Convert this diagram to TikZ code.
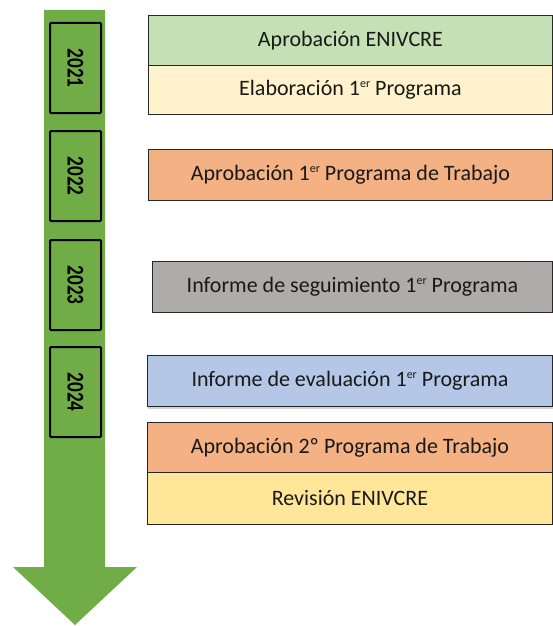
\documentclass[tikz,border=0pt]{standalone}
\usepackage{fontspec}
\setmainfont{Carlito}
\usetikzlibrary{shadows}
\definecolor{arrowgreen}{HTML}{70AD47}
\definecolor{cgreen}{HTML}{C5E0B4}
\definecolor{ccream}{HTML}{FFF2CC}
\definecolor{corange}{HTML}{F4B183}
\definecolor{cgray}{HTML}{AFABAB}
\definecolor{cblue}{HTML}{B4C7E7}
\definecolor{cyellow}{HTML}{FFE699}
\newcommand{\myup}[1]{\raisebox{8.5pt}{\fontsize{12}{12}\selectfont #1}}
\newcommand{\myyear}[1]{\scalebox{0.8}[1]{#1}}
\begin{document}
\begin{tikzpicture}[x=1pt,y=-1pt,
  yearbox/.style={draw=black,line width=2pt,fill=arrowgreen,rounded corners=1pt,
    minimum width=51pt,minimum height=90pt,inner sep=0pt,anchor=north west},
  yeartext/.style={rotate=-90,font=\fontsize{24}{24}\selectfont\bfseries,text=black},
  evbox/.style={draw=black!85,line width=0.9pt,inner sep=0pt,anchor=north west,
    font=\fontsize{22}{24}\selectfont,text=black!90}]
\useasboundingbox (0,0) rectangle (552,626);
% arrow
\fill[arrowgreen] (44,10) -- (105,10) -- (105,567) -- (137,567) -- (75,625) -- (13,567) -- (44,567) -- cycle;
% year boxes
\node[yearbox] (y1) at (49,22) {};
\node[yeartext] at (y1.center) {\myyear{2021}};
\node[yearbox] (y2) at (49,130) {};
\node[yeartext] at (y2.center) {\myyear{2022}};
\node[yearbox] (y3) at (49,239) {};
\node[yeartext] at (y3.center) {\myyear{2023}};
\node[yearbox] (y4) at (49,346) {};
\node[yeartext] at (y4.center) {\myyear{2024}};
% event boxes
\node[evbox,fill=cgreen,minimum width=404pt,minimum height=50pt] (e1) at (148,15) {Aprobación ENIVCRE};
\node[evbox,fill=ccream,minimum width=404pt,minimum height=49pt] (e2) at (148,65) {Elaboración 1\myup{er} Programa};
\node[evbox,fill=corange,minimum width=404pt,minimum height=51pt] (e3) at (148,149) {Aprobación 1\myup{er} Programa de Trabajo};
\node[evbox,fill=cgray,minimum width=400pt,minimum height=51pt] (e4) at (152,261) {Informe de seguimiento 1\myup{er} Programa};
\node[evbox,fill=cblue,minimum width=405pt,minimum height=51pt,drop shadow={shadow xshift=1pt,shadow yshift=-3pt,opacity=0.35}] (e5) at (147,355) {Informe de evaluación 1\myup{er} Programa};
\node[evbox,fill=corange,minimum width=405pt,minimum height=50pt] (e6) at (147,422) {Aprobación 2º Programa de Trabajo};
\node[evbox,fill=cyellow,minimum width=405pt,minimum height=52pt] (e7) at (147,472) {Revisión ENIVCRE};
\end{tikzpicture}
\end{document}
